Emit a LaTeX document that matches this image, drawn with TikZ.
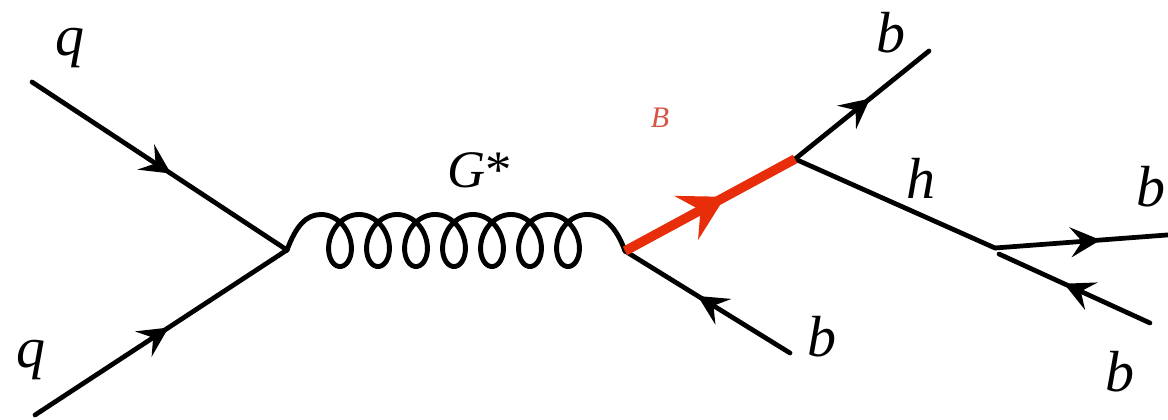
\documentclass[tikz,border=0pt]{standalone}
\usepackage{fontspec}
\setmainfont{Liberation Serif}
\usetikzlibrary{arrows.meta,decorations.markings}
\definecolor{redline}{RGB}{232,45,10}
\definecolor{redlabel}{RGB}{215,85,70}
\tikzset{
  fermion/.style={line width=2.7pt, line cap=round, postaction={decorate},
    decoration={markings, mark=at position #1 with {\arrow{Stealth[length=17pt,width=17pt,inset=6.5pt]}}}},
  heavyferm/.style={draw=redline, line width=5.4pt, line cap=butt, postaction={decorate},
    decoration={markings, mark=at position #1 with {\arrow[redline]{Stealth[length=25pt,width=28pt,inset=9pt]}}}},
  scalar/.style={line width=2.7pt, line cap=round},
  gluon/.style={line width=2.8pt, line cap=round, line join=round},
  lbl/.style={inner sep=0pt, font=\fontsize{33}{40}\selectfont\itshape},
  glbl/.style={inner sep=0pt, font=\fontsize{30}{36}\selectfont},
  blbl/.style={inner sep=0pt, text=redlabel, font=\fontsize{17}{20}\selectfont\itshape}
}
\begin{document}
\begin{tikzpicture}[x=0.02cm, y=-0.02cm]
\useasboundingbox (0,0) rectangle (1168,419);
% vertices and end points
\coordinate (q1s) at (32,82);
\coordinate (q2s) at (35,415);
\coordinate (v1) at (287,250);
\coordinate (v2) at (625,251);
\coordinate (v3) at (795,159);
\coordinate (b1e) at (929,51);
\coordinate (b2s) at (790,353);
\coordinate (v4) at (995,248);
\coordinate (v4b) at (999,254);
\coordinate (b3e) at (1180,234);
\coordinate (b4s) at (1150,323);
% incoming quarks
\draw[fermion=0.545] (q1s) -- (v1);
\draw[fermion=0.53] (q2s) -- (v1);
% gluon
\draw[gluon] (v1) .. controls (296,226) and (306,214.5) .. (321,214.5)
  -- plot[smooth, domain=0:43.9823, samples=600, variable=\t]
     ({321 + 6.048*\t + 20*sin(\t r)}, {240.5 - 26*cos(\t r)})
  .. controls (603,214.5) and (616,226) .. (v2);
% outgoing lines
\draw[fermion=0.56] (b2s) -- (v2);
\draw[fermion=0.56] (v3) -- (b1e);
\draw[scalar] (v3) -- (v4);
\draw[fermion=0.57] (v4) -- (b3e);
\draw[fermion=0.57] (b4s) -- (v4b);
% heavy quark
\draw[heavyferm=0.59] (v2) -- (v3);
% labels
\node[lbl] (lq1) at (70,48) {q};
\node[lbl] (lq2) at (31,360) {q};
\node[glbl] (lg) at (480,170) {\textit{G}*};
\node[blbl] (lB) at (660,118) {B};
\node[lbl] (lb1) at (891,33) {b};
\node[lbl] (lb2) at (822,337) {b};
\node[lbl] (lh) at (921,178) {h};
\node[lbl] (lb3) at (1151,187) {b};
\node[lbl] (lb4) at (1120,372) {b};
\end{tikzpicture}
\end{document}
